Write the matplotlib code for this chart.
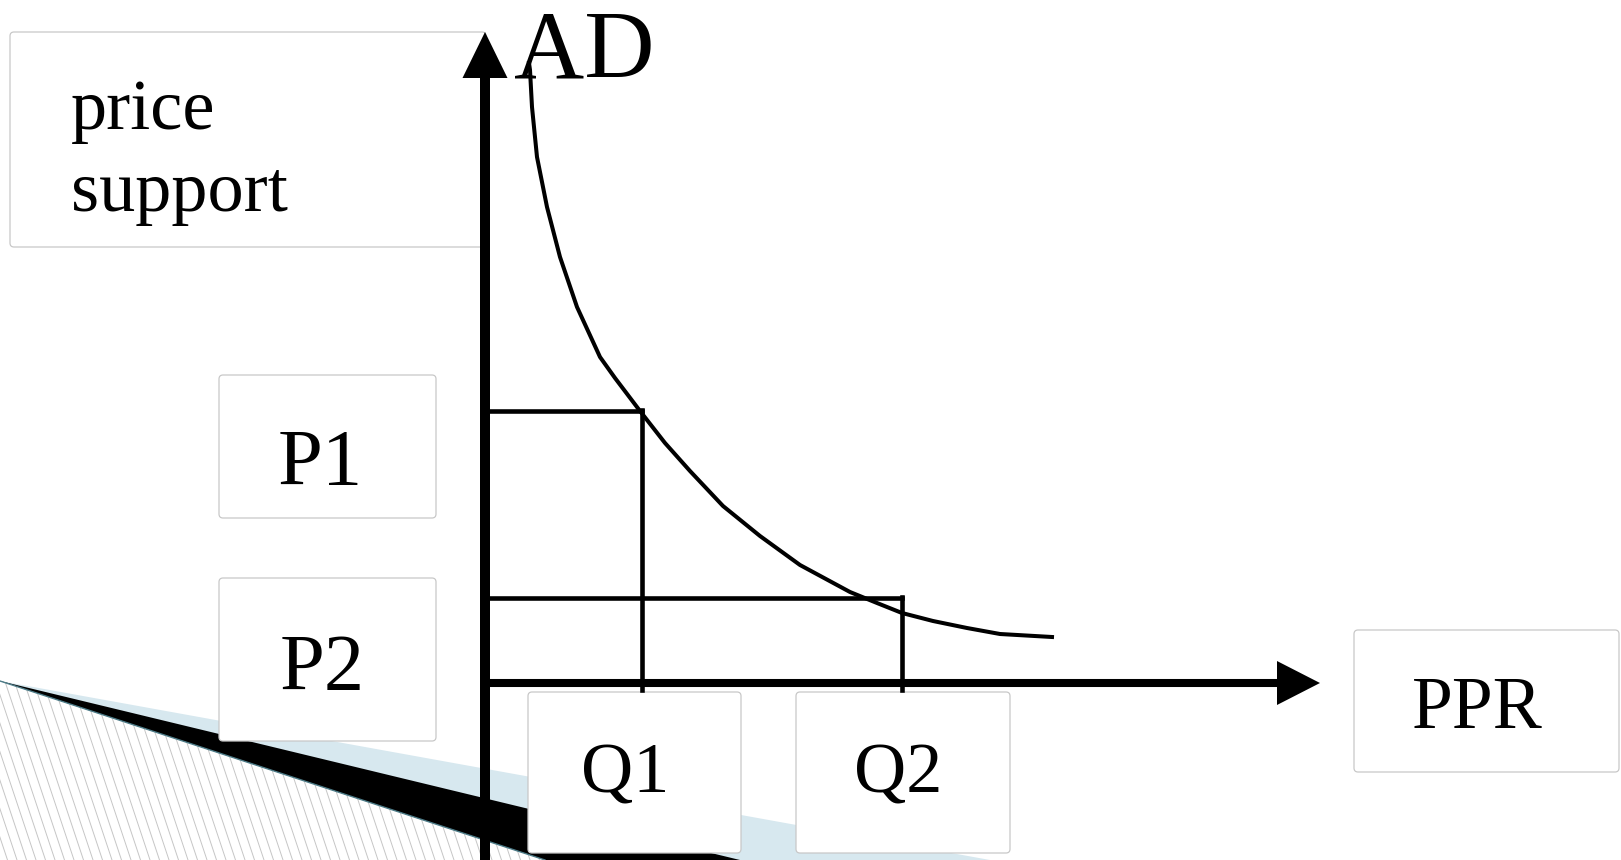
import matplotlib.pyplot as plt
from matplotlib.patches import Polygon, FancyBboxPatch, Rectangle
import numpy as np

# demand curve AD (quantity offset, price offset from the origin)
ad_q = [44, 45, 47, 52, 62, 75, 92, 115, 130, 155, 180, 205, 238, 275, 315, 365, 392, 417, 448, 482, 515, 567]
ad_p = [620, 613, 576, 526, 476, 426, 376, 326, 305, 272, 240, 212, 177, 147, 118, 91, 80, 70, 62, 55, 49, 46]

q_levels = [157, 417]   # Q1, Q2
p_levels = [272, 85]    # P1, P2
q_labels = ['Q1', 'Q2']
p_labels = ['P1', 'P2']

W, H = 1621, 860
X0, Y0 = 485, 683   # origin in pixels


def fx(px):
    return px - X0


def fy(py):
    return Y0 - py


fig = plt.figure(figsize=(W / 100, H / 100), dpi=100)
ax = fig.add_axes([0, 0, 1, 1])
ax.set_xlim(fx(0), fx(W))
ax.set_ylim(fy(H), fy(0))
ax.axis('off')

serif = 'Liberation Serif'

# decoration in the lower-left corner
blue = Polygon([(fx(0), fy(681)), (fx(990), fy(860)), (fx(0), fy(860))],
               closed=True, facecolor='#d7e8ef', edgecolor='none', zorder=1)
black = Polygon([(fx(0), fy(681)), (fx(740), fy(860)), (fx(0), fy(860))],
                closed=True, facecolor='black', edgecolor='none', zorder=1.1)
hatch_tri = Polygon([(fx(0), fy(681)), (fx(545), fy(860)), (fx(0), fy(860))],
                    closed=True, facecolor='white', edgecolor='none', zorder=1.2)
ax.add_patch(blue)
ax.add_patch(black)
ax.add_patch(hatch_tri)
for x in np.arange(-300, 600, 9.5):
    ln, = ax.plot([fx(x), fx(x + 70)], [fy(650), fy(860)], color='#c6c6c6', lw=0.7, zorder=1.3)
    ln.set_clip_path(hatch_tri)
ax.plot([fx(0), fx(545)], [fy(681), fy(860)], color='#4d7c88', lw=1.0, zorder=1.4)


def box(x1, y1, x2, y2):
    p = FancyBboxPatch((fx(x1), fy(y2)), x2 - x1, y2 - y1,
                       boxstyle='round,pad=0,rounding_size=4',
                       facecolor='white', edgecolor='#c8c8c8', lw=0.9, zorder=2)
    ax.add_patch(p)


box(10, 32, 486, 247)
box(219, 375, 436, 518)
box(219, 578, 436, 741)
box(528, 692, 741, 853)
box(796, 692, 1010, 853)
box(1354, 630, 1619, 772)

# axes with arrows
ax.plot([0, 0], [fy(870), fy(76)], color='black', lw=7.2, solid_capstyle='butt', zorder=3)
ax.add_patch(Polygon([(-22.5, fy(78)), (22.5, fy(78)), (0, fy(32))],
                     closed=True, facecolor='black', edgecolor='none', zorder=3))
ax.plot([-5, fx(1279)], [0, 0], color='black', lw=5.8, solid_capstyle='butt', zorder=3)
ax.add_patch(Polygon([(fx(1277), 22), (fx(1277), -22), (fx(1320), 0)],
                     closed=True, facecolor='black', edgecolor='none', zorder=3))

# price / quantity guides
for q, p in zip(q_levels, p_levels):
    ax.plot([0, q], [p, p], color='black', lw=3.3, zorder=3)
    ax.plot([q, q], [p + 1, -7], color='black', lw=3.3, zorder=3)

ax.plot(ad_q, ad_p, color='black', lw=2.9, solid_joinstyle='round', zorder=4)

# labels
ax.text(fx(584), fy(78), 'AD', fontsize=70, family=serif, ha='center', va='baseline', zorder=5)
ax.text(fx(71), fy(129), 'price', fontsize=52, family=serif, ha='left', va='baseline', zorder=5)
t = ax.text(fx(71), fy(211), 'support', fontsize=52, family=serif, ha='left', va='baseline', zorder=5)
clip = Rectangle((fx(10), fy(216)), 476, 184, transform=ax.transData)
t.set_clip_path(clip)

for lab, yb, xc in zip(p_labels, [485, 690], [320, 322]):
    ax.text(fx(xc), fy(yb), lab, fontsize=58, family=serif, ha='center', va='baseline', zorder=5)
for lab, xc in zip(q_labels, [625, 898]):
    ax.text(fx(xc), fy(792), lab, fontsize=52, family=serif, ha='center', va='baseline', zorder=5)
ax.text(fx(1477), fy(728), 'PPR', fontsize=53, family=serif, ha='center', va='baseline', zorder=5)

plt.savefig('out.png', dpi=100)
